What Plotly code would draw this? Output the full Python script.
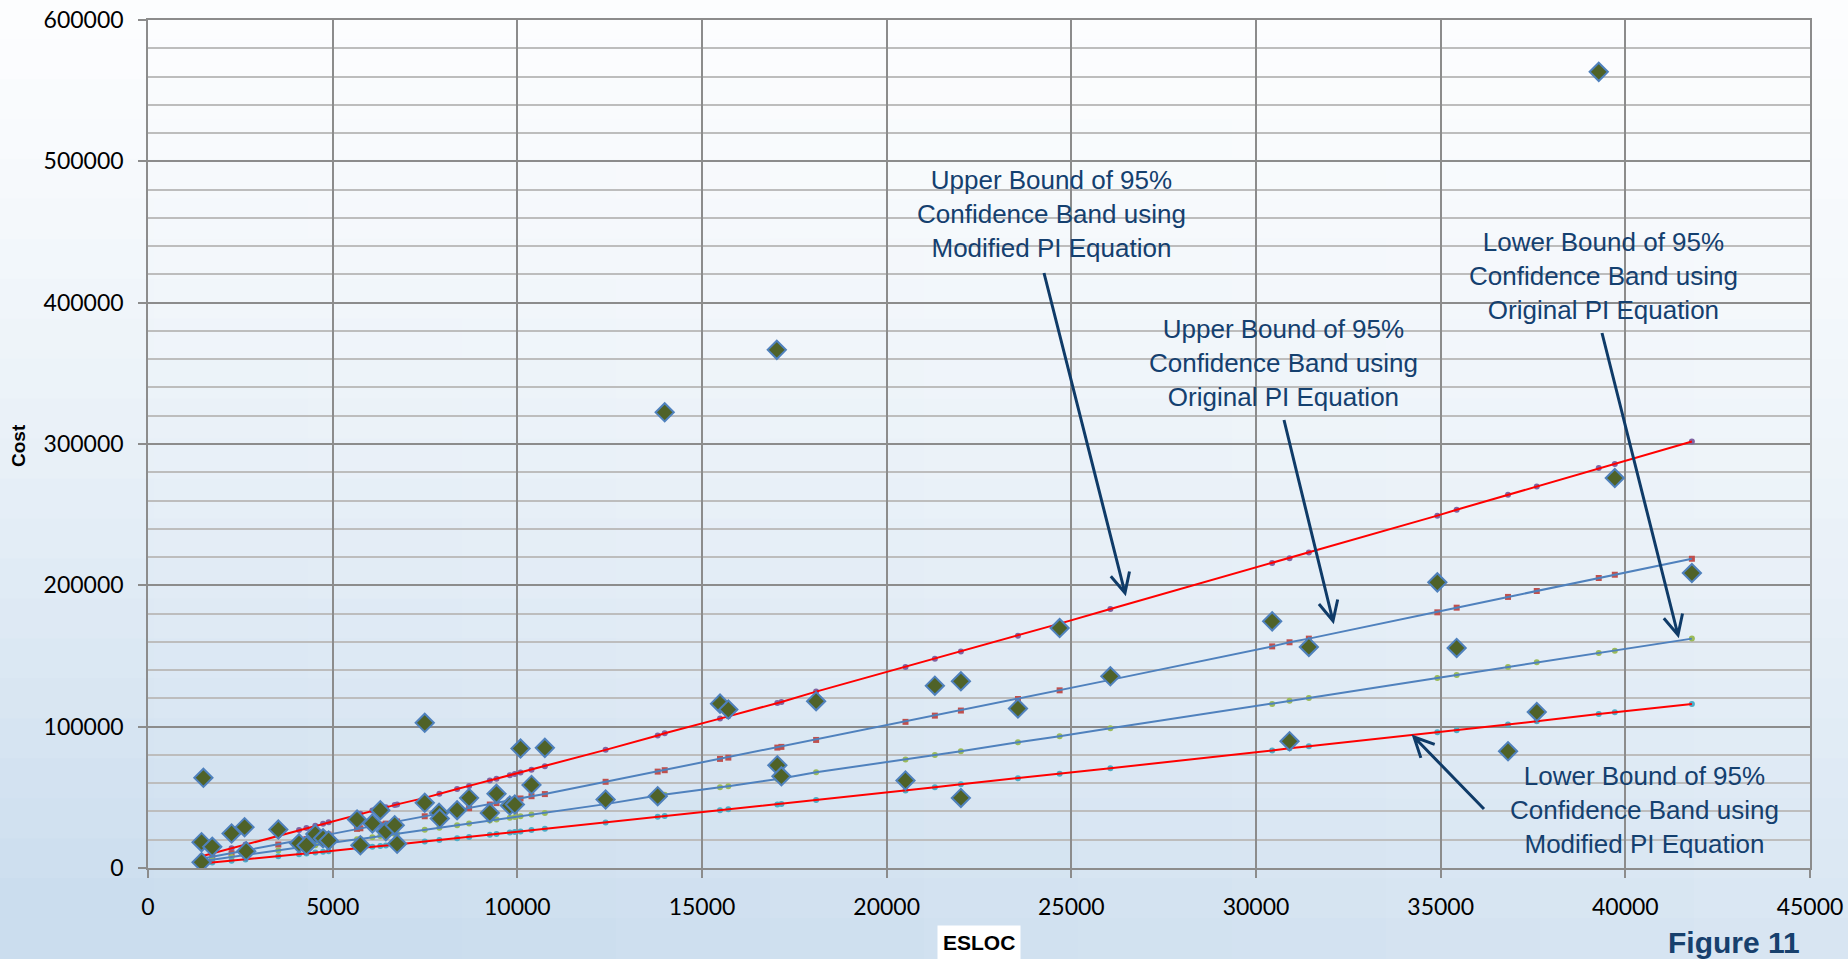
import math
import plotly.graph_objects as go

# ---------------- data ----------------
esloc = [1500, 1450, 1450, 1740, 2263, 2615, 2660, 3528, 4090, 4290, 4530, 4740, 4890,
         5660, 5750, 6075, 6290, 6440, 6680, 6745, 7493, 7493, 7881, 7900, 8369, 8694,
         9255, 9436, 9797, 9932, 10086, 10384, 10745, 12390, 13800, 13990, 15488, 15713,
         17025, 17040, 17150, 18090, 20510, 21305, 22010, 22010, 23555, 24683, 26057,
         30438, 30908, 31431, 34910, 35433, 36824, 37602, 39280, 39715, 41802]
cost = [63800, 18300, 4100, 15000, 24400, 28900, 11900, 27200, 17500, 16000, 24000, 21000, 19500,
        34300, 16100, 31500, 40900, 26000, 30300, 17100, 102700, 46100, 39000, 35000, 40900, 49600,
        39000, 52500, 44200, 44900, 84500, 58800, 85000, 48400, 50800, 322400, 116300, 112100,
        366600, 72700, 64900, 118000, 61900, 129000, 132100, 49600, 112800, 169800, 135600,
        174500, 89700, 156400, 202100, 155700, 82600, 110400, 563300, 275900, 208700]

bound_x = [1450, 1740, 2263, 2640, 3528, 4090, 4290, 4530, 4740, 4890, 5660, 5750, 6075, 6290,
           6440, 6680, 6745, 7493, 7890, 8369, 8694, 9255, 9436, 9797, 9932, 10086, 10384, 10745,
           12390, 13800, 13990, 15488, 15713, 17040, 17150, 18090, 20510, 21305, 22010, 23555,
           24683, 26057, 30438, 30908, 31431, 34910, 35433, 36824, 37602, 39280, 39715, 41802]
upper_modified = [8300, 10300, 14000, 16700, 23000, 26900, 28300, 29900, 31300, 32300, 37800, 38400,
                  40600, 42000, 43000, 44600, 45000, 49600, 52600, 55900, 58100, 61900, 63100, 65600,
                  66500, 67600, 69600, 72000, 83600, 93700, 95300, 105700, 107300, 116800, 117500,
                  124800, 142300, 148100, 153100, 164400, 172900, 183300, 215800, 219100, 223300,
                  249300, 253500, 264100, 270000, 283000, 285800, 301800]
upper_original = [6500, 7900, 10400, 12200, 16600, 19500, 20500, 21800, 22900, 23700, 27700, 28100,
                  29700, 30700, 31400, 32600, 32900, 36600, 38500, 40800, 42300, 44900, 45900, 47700,
                  48400, 49200, 50800, 52300, 61000, 68200, 69200, 77200, 78100, 85200, 85700, 90600,
                  103400, 107800, 111400, 119600, 125700, 133100, 156800, 159700, 162300, 180900,
                  184200, 191800, 196000, 205200, 207500, 218800]
lower_original = [4800, 5900, 7800, 9200, 12400, 14400, 15200, 16100, 16800, 17400, 20300, 20600,
                  21800, 22600, 23100, 24000, 24200, 27000, 28500, 30300, 31500, 33600, 34300, 35600,
                  36100, 36700, 37800, 39000, 45200, 51300, 51900, 57100, 57900, 62900, 63300, 67700,
                  76700, 80000, 82600, 89000, 93200, 98900, 116100, 118400, 120300, 134500, 136600,
                  142300, 145500, 152200, 153800, 162300]
lower_modified = [3200, 3900, 5200, 6100, 8400, 9800, 10300, 10900, 11500, 11900, 13900, 14100,
                  15000, 15500, 15900, 16500, 16700, 18700, 19800, 21100, 22000, 23600, 24100, 25100,
                  25500, 25900, 26800, 27800, 32200, 36200, 36800, 40900, 41500, 45000, 45300, 48200,
                  54800, 57100, 59300, 63500, 66700, 70600, 83100, 84800, 86100, 96000, 97400, 101500,
                  103800, 109000, 110200, 116100]

x_ticks = [0, 5000, 10000, 15000, 20000, 25000, 30000, 35000, 40000, 45000]
y_ticks = [0, 100000, 200000, 300000, 400000, 500000, 600000]

annotation_texts = [
    "Upper Bound of 95%<br>Confidence Band using<br>Modified PI Equation",
    "Upper Bound of 95%<br>Confidence Band using<br>Original PI Equation",
    "Lower Bound of 95%<br>Confidence Band using<br>Original PI Equation",
    "Lower Bound of 95%<br>Confidence Band using<br>Modified PI Equation",
]

# ---------------- layout geometry ----------------
W, H = 1848, 959
ML, MR, MT, MB = 148, 38, 20, 91
PW, PH = W - ML - MR, H - MT - MB


def paper(X, Y):
    return (X - ML) / PW, (H - MB - Y) / PH


fig = go.Figure()

bounds = [
    (upper_modified, "#8064A2", "circle", "#FF0000"),
    (upper_original, "#C0504D", "square", "#4F81BD"),
    (lower_original, "#9BBB59", "circle", "#4F81BD"),
    (lower_modified, "#4BACC6", "circle", "#FF0000"),
]
for vals, mcol, sym, lcol in bounds:
    fig.add_trace(go.Scatter(x=bound_x, y=vals, mode="markers",
                             marker=dict(color=mcol, size=6, symbol=sym, line=dict(width=0)),
                             hoverinfo="skip"))
for vals, mcol, sym, lcol in bounds:
    fig.add_trace(go.Scatter(x=bound_x, y=vals, mode="lines",
                             line=dict(color=lcol, width=2), hoverinfo="skip"))

fig.add_trace(go.Scatter(x=esloc, y=cost, mode="markers",
                         marker=dict(symbol="diamond", size=14, color="#4F6228",
                                     line=dict(color="#4F81BD", width=2))))

# ---------------- background gradient ----------------
shapes = []
nrows, ncols = 24, 12


def bg_color(xn, yn):
    # top near white, bottom light blue; left a bit bluer
    t = min(1.0, max(0.0, (yn ** 1.3) * (0.75 + 0.35 * (1 - xn))))
    c0 = (252, 253, 254)
    c1 = (203, 221, 238)
    return "rgb(%d,%d,%d)" % tuple(round(a + (b - a) * t) for a, b in zip(c0, c1))


for i in range(nrows):
    for j in range(ncols):
        X0, X1 = W * j / ncols, W * (j + 1) / ncols
        Y0, Y1 = H * i / nrows, H * (i + 1) / nrows
        px0, py0 = paper(X0, Y1)
        px1, py1 = paper(X1 + 1, Y0 - 1)
        shapes.append(dict(type="rect", xref="paper", yref="paper", x0=px0, x1=px1,
                           y0=py0, y1=py1, layer="below", line=dict(width=0),
                           fillcolor=bg_color((j + 0.5) / ncols, (i + 0.5) / nrows)))

# ---------------- arrows ----------------
arrows = [((1044, 273), (1125, 593)),
          ((1284, 420), (1333, 621)),
          ((1602, 333), (1678, 635)),
          ((1484, 809), (1414, 737))]
acol = "#0F3B68"
for (tx, ty), (hx, hy) in arrows:
    dx, dy = tx - hx, ty - hy
    L = math.hypot(dx, dy)
    ux, uy = dx / L, dy / L
    pts = []
    for ang in (math.radians(26), math.radians(-26)):
        rx = ux * math.cos(ang) - uy * math.sin(ang)
        ry = ux * math.sin(ang) + uy * math.cos(ang)
        pts.append((hx + 22 * rx, hy + 22 * ry))
    p_t = paper(tx, ty)
    p_h = paper(hx, hy)
    p_a = paper(*pts[0])
    p_b = paper(*pts[1])
    path = "M %f,%f L %f,%f M %f,%f L %f,%f L %f,%f" % (
        p_t[0], p_t[1], p_h[0], p_h[1], p_a[0], p_a[1], p_h[0], p_h[1], p_b[0], p_b[1])
    shapes.append(dict(type="path", xref="paper", yref="paper", path=path,
                       line=dict(color=acol, width=3), layer="above"))

# ---------------- annotations ----------------
tcol = "#14406F"
text_pos = [(1051, 214), (1283, 363), (1603, 276), (1644, 810)]
annotations = []
for txt, (X, Y) in zip(annotation_texts, text_pos):
    px_, py_ = paper(X, Y)
    annotations.append(dict(text=txt, x=px_, y=py_, xref="paper", yref="paper",
                            xanchor="center", yanchor="middle", showarrow=False,
                            font=dict(family="Liberation Sans, Arial", size=26, color=tcol)))

px_, py_ = paper(979, 942)
annotations.append(dict(text="<b>ESLOC</b>", x=px_, y=py_, xref="paper", yref="paper",
                        xanchor="center", yanchor="middle", showarrow=False,
                        bgcolor="white", borderpad=5,
                        font=dict(family="Liberation Sans, Arial", size=21, color="black")))
px_, py_ = paper(18, 446)
annotations.append(dict(text="<b>Cost</b>", x=px_, y=py_, xref="paper", yref="paper",
                        xanchor="center", yanchor="middle", showarrow=False, textangle=-90,
                        font=dict(family="Liberation Sans, Arial", size=19, color="black")))
px_, py_ = paper(1734, 942)
annotations.append(dict(text="<b>Figure 11</b>", x=px_, y=py_, xref="paper", yref="paper",
                        xanchor="center", yanchor="middle", showarrow=False,
                        font=dict(family="Liberation Sans, Arial", size=30, color="#17406D")))

gridc = "#8C8C8C"
fig.update_layout(
    width=W, height=H,
    margin=dict(l=ML, r=MR, t=MT, b=MB, autoexpand=False),
    paper_bgcolor="rgba(0,0,0,0)", plot_bgcolor="rgba(0,0,0,0)",
    showlegend=False,
    shapes=shapes, annotations=annotations,
    xaxis=dict(range=[0, 45000], tickvals=x_ticks, ticktext=[str(v) for v in x_ticks],
               automargin=False,
               showgrid=True, gridcolor=gridc, gridwidth=1.5, zeroline=False,
               showline=True, linecolor=gridc, linewidth=1.5, mirror=True,
               ticks="outside", ticklen=8, tickwidth=1.5, tickcolor=gridc,
               ticklabelstandoff=10,
               tickfont=dict(family="Lato, Open Sans", size=23, color="black")),
    yaxis=dict(range=[0, 600000], tickvals=y_ticks, ticktext=[str(v) for v in y_ticks],
               automargin=False,
               showgrid=True, gridcolor=gridc, gridwidth=1.5, zeroline=False,
               showline=True, linecolor=gridc, linewidth=1.5, mirror=True,
               ticks="outside", ticklen=8, tickwidth=1.5, tickcolor=gridc,
               ticklabelstandoff=10,
               minor=dict(dtick=20000, tick0=0, showgrid=True, gridcolor="#BDBDBD", gridwidth=1.5),
               tickfont=dict(family="Lato, Open Sans", size=23, color="black")),
)

fig.write_html("out.html")
